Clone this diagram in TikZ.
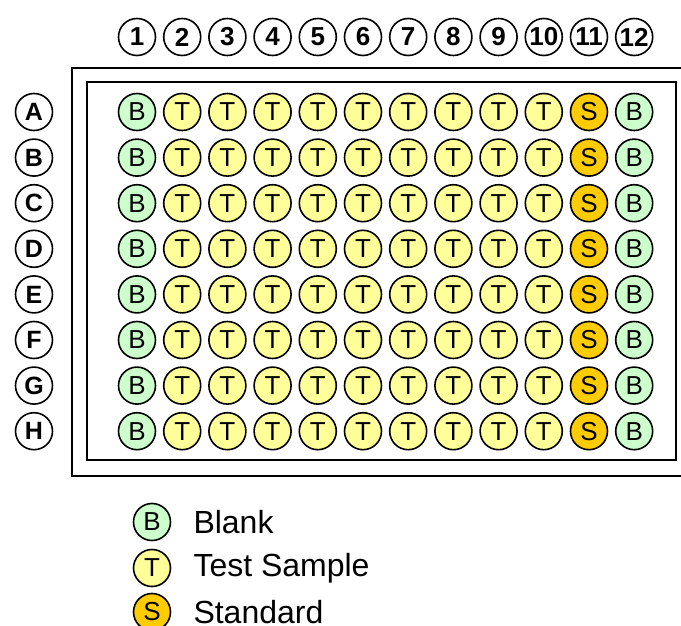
\documentclass[tikz,border=0pt]{standalone}
\usepackage{fontspec}
\setmainfont{Liberation Sans}
\usetikzlibrary{matrix,positioning}
\definecolor{blankgreen}{HTML}{CCFFCC}
\definecolor{testyellow}{HTML}{FFFF99}
\definecolor{stdorange}{HTML}{FFCC00}
\tikzset{
	well/.style={circle, draw, line width=1.6pt, minimum size=37pt, inner sep=0pt, font=\fontsize{26}{26}\selectfont},
	blank/.style={well, fill=blankgreen},
	test/.style={well, fill=testyellow},
	std/.style={well, fill=stdorange},
	rowlbl/.style={circle, draw, line width=1.6pt, fill=white, minimum size=37pt, inner sep=0pt, font=\fontsize{25}{25}\selectfont\bfseries},
	collbl/.style={rowlbl, font=\fontsize{26}{26}\selectfont\bfseries},
	legtxt/.style={inner sep=0pt, font=\fontsize{32}{32}\selectfont}
}
\begin{document}
\begin{tikzpicture}[x=1pt, y=-1pt]
	\useasboundingbox (0,0) rectangle (681,626);
	\draw[line width=2.4pt] (681,68) -- (72,68) -- (72,476) -- (681,476);
	\draw[line width=2.4pt] (87,82) rectangle (676,460);
	\matrix (P) [matrix of nodes, inner sep=0pt, nodes={test, anchor=center}, column sep=6.6pt, row sep=7pt,
		column 1/.style={nodes={blank}}, column 11/.style={nodes={std}}, column 12/.style={nodes={blank}}] at (385.6,271.6) {
		B & T & T & T & T & T & T & T & T & T & S & B \\
		B & T & T & T & T & T & T & T & T & T & S & B \\
		B & T & T & T & T & T & T & T & T & T & S & B \\
		B & T & T & T & T & T & T & T & T & T & S & B \\
		B & T & T & T & T & T & T & T & T & T & S & B \\
		B & T & T & T & T & T & T & T & T & T & S & B \\
		B & T & T & T & T & T & T & T & T & T & S & B \\
		B & T & T & T & T & T & T & T & T & T & S & B \\
	};
	\foreach \c in {1,...,12}
		\node[collbl] (col\c) at (P-1-\c |- 0,37) {\c};
	\foreach \r/\l in {1/A,2/B,3/C,4/D,5/E,6/F,7/G,8/H}
		\node[rowlbl] (row\l) at (P-\r-1 -| 34,0) {\l};
	\node[blank] (keyB) at (152,522) {B};
	\node[test] (keyT) at (152,568) {T};
	\node[std] (keyS) at (152,612) {S};
	\node[legtxt, right=22pt of keyB] (txtB) {Blank};
	\node[legtxt, right=22pt of keyT] (txtT) {Test Sample};
	\node[legtxt, right=22pt of keyS] (txtS) {Standard};
\end{tikzpicture}
\end{document}
